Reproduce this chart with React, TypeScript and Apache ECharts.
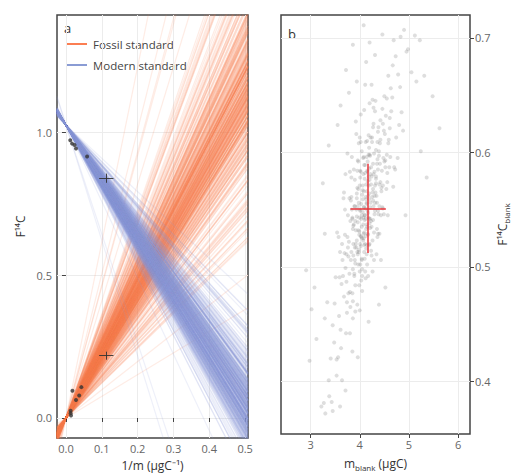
import React, { useEffect, useRef } from 'react';
import * as echarts from 'echarts';

// Posterior draws of the procedural blank: [m_blank (μgC), F14C_blank]
const blankDraws: [number, number][] = [
  [4.12,0.551],[3.86,0.498],[4.41,0.608],[4.03,0.488],[4.27,0.622],[3.71,0.499],[4.55,0.598],[4.18,0.543],[3.94,0.560],[4.36,0.526],
  [4.08,0.596],[3.62,0.429],[4.21,0.534],[4.73,0.684],[3.99,0.543],[4.15,0.584],[3.81,0.465],[4.47,0.571],[4.02,0.609],[4.30,0.583],
  [3.76,0.517],[4.24,0.510],[4.61,0.630],[3.90,0.517],[4.11,0.659],[4.38,0.546],[3.53,0.405],[4.05,0.563],[4.19,0.519],[4.82,0.657],
  [3.97,0.568],[4.33,0.573],[3.68,0.474],[4.14,0.537],[4.50,0.649],[3.85,0.543],[4.26,0.496],[4.09,0.589],[3.43,0.382],[4.40,0.572],
  [4.01,0.520],[4.22,0.613],[3.79,0.494],[4.58,0.608],[4.13,0.559],[3.92,0.627],[4.35,0.533],[4.07,0.543],[5.12,0.702],[3.74,0.460],
  [4.29,0.599],[4.17,0.528],[3.88,0.537],[4.44,0.566],[4.00,0.496],[3.59,0.491],[4.64,0.636],[4.20,0.576],[3.95,0.467],[4.32,0.645],
  [4.10,0.541],[3.83,0.578],[4.49,0.546],[4.06,0.559],[3.30,0.372],[4.25,0.561],[4.69,0.698],[3.98,0.513],[4.16,0.592],[3.72,0.442],
  [4.39,0.597],[4.04,0.506],[3.87,0.520],[4.53,0.632],[4.23,0.540],[3.64,0.520],[4.11,0.496],[4.31,0.636],[3.93,0.550],[4.77,0.595],
  [4.14,0.556],[3.80,0.478],[4.42,0.611],[4.02,0.527],[3.48,0.434],[4.28,0.581],[4.09,0.637],[3.91,0.503],[4.60,0.587],[4.19,0.586],
  [3.96,0.539],[4.34,0.511],[4.07,0.595],[3.77,0.509],[4.52,0.593],[4.13,0.516],[3.70,0.550],[4.46,0.638],[4.00,0.462],[4.21,0.552],
  [3.84,0.550],[4.37,0.549],[4.15,0.610],[3.58,0.457],[4.27,0.568],[4.98,0.690],[3.95,0.513],[4.08,0.566],[4.43,0.506],[3.69,0.512],
  [4.18,0.598],[3.89,0.492],[4.56,0.574],[4.03,0.555],[4.24,0.535],[3.75,0.599],[4.12,0.542],[3.38,0.387],[4.36,0.609],[4.05,0.498],
  [3.92,0.520],[4.48,0.595],[4.11,0.520],[3.82,0.558],[4.30,0.562],[4.66,0.648],[3.99,0.484],[4.20,0.643],[3.63,0.485],[4.40,0.553],
  [4.06,0.571],[3.78,0.522],[4.25,0.609],[4.85,0.635],[3.97,0.502],[4.16,0.549],[3.51,0.491],[4.33,0.579],[4.01,0.578],[4.57,0.545],
  [3.86,0.470],[4.22,0.581],[4.09,0.530],[3.67,0.560],[4.44,0.569],[4.13,0.679],[3.94,0.544],[4.29,0.530],[4.74,0.613],[4.04,0.535],
  [3.73,0.487],[4.38,0.622],[4.17,0.492],[3.90,0.553],[4.51,0.616],[4.08,0.525],[3.45,0.449],[4.27,0.558],[3.98,0.608],[4.62,0.596],
  [4.14,0.511],[3.81,0.540],[4.35,0.556],[4.02,0.583],[3.56,0.421],[4.19,0.559],[4.90,0.707],[3.93,0.517],[4.23,0.587],[4.47,0.551],
  [3.88,0.585],[4.10,0.545],[3.66,0.492],[4.41,0.590],[4.05,0.479],[4.28,0.625],[3.76,0.545],[4.54,0.568],[4.12,0.561],[3.27,0.381],
  [4.32,0.565],[3.96,0.511],[4.20,0.598],[3.85,0.477],[4.59,0.611],[4.07,0.537],[3.71,0.581],[4.45,0.584],[4.15,0.519],[3.60,0.513],
  [4.26,0.646],[4.00,0.550],[3.83,0.513],[4.37,0.529],[4.11,0.582],[5.05,0.670],[3.91,0.461],[4.18,0.571],[4.68,0.570],[4.03,0.542],
  [3.79,0.560],[4.31,0.549],[4.09,0.513],[3.54,0.530],[4.42,0.628],[4.14,0.555],[3.89,0.494],[4.24,0.659],[4.80,0.624],[3.97,0.532],
  [4.16,0.529],[3.74,0.469],[4.49,0.619],[4.06,0.567],[3.93,0.616],[4.33,0.577],[3.41,0.420],[4.21,0.542],[4.01,0.584],[4.56,0.582],
  [3.87,0.536],[4.29,0.506],[4.12,0.609],[3.65,0.506],[4.39,0.601],[4.05,0.525],[3.80,0.442],[4.63,0.656],[4.19,0.564],[3.95,0.569],
  [4.46,0.552],[4.08,0.552],[3.70,0.528],[4.25,0.613],[3.99,0.528],[4.72,0.585],[3.84,0.596],[4.15,0.502],[3.34,0.469],[4.35,0.590],
  [4.04,0.507],[3.90,0.576],[4.52,0.587],[4.17,0.547],[3.61,0.445],[4.28,0.639],[3.96,0.553],[4.43,0.545],[4.10,0.577],[5.22,0.698],
  [3.82,0.506],[4.23,0.572],[4.02,0.633],[4.61,0.621],[3.77,0.477],[4.13,0.533],[4.37,0.618],[3.92,0.532],[3.49,0.468],[4.20,0.520],
  [4.07,0.581],[4.50,0.592],[3.86,0.455],[4.31,0.556],[3.68,0.565],[4.16,0.575],[4.88,0.619],[3.98,0.515],[4.26,0.565],[4.00,0.613],
  [3.73,0.511],[4.40,0.529],[4.11,0.545],[3.94,0.564],[4.58,0.667],[4.05,0.492],[3.57,0.526],[4.33,0.602],[4.19,0.542],[3.85,0.542],
  [4.47,0.625],[4.09,0.519],[3.80,0.583],[4.22,0.556],[3.64,0.401],[4.36,0.594],[4.01,0.549],[4.70,0.587],[3.91,0.484],[4.14,0.596],
  [3.89,0.553],[4.27,0.541],[4.55,0.647],[3.75,0.526],[4.12,0.490],[3.96,0.593],[4.42,0.574],[3.22,0.378],[4.18,0.579],[4.03,0.526],
  [4.06,0.548],[4.17,0.562],[3.99,0.531],[4.24,0.579],[4.10,0.507],[3.95,0.584],[4.30,0.546],[4.13,0.572],[4.02,0.518],[4.21,0.597],
  [3.91,0.540],[4.34,0.562],[4.08,0.529],[4.19,0.604],[3.98,0.556],[4.26,0.523],[4.11,0.589],[3.87,0.510],[4.15,0.535],[4.04,0.601],
  [4.28,0.553],[3.94,0.523],[4.16,0.583],[4.00,0.571],[4.23,0.514],[3.83,0.561],[4.37,0.585],[4.09,0.552],[4.20,0.538],[3.97,0.592],
  [4.12,0.527],[4.31,0.571],[3.90,0.506],[4.05,0.545],[4.18,0.615],[4.01,0.502],[4.27,0.590],[3.86,0.533],[4.14,0.566],[4.07,0.523],
  [3.72,0.672],[4.95,0.688],[3.86,0.694],[4.46,0.703],[5.31,0.667],[3.61,0.641],[4.67,0.676],[4.08,0.711],[5.48,0.649],[3.37,0.606],
  [4.31,0.685],[3.94,0.662],[4.83,0.701],[3.25,0.573],[5.62,0.621],[3.55,0.624],[4.20,0.696],[4.78,0.668],[3.78,0.652],[5.15,0.662],
  [3.12,0.437],[3.53,0.419],[3.85,0.426],[3.29,0.455],[4.18,0.452],[3.37,0.401],[3.71,0.392],[4.39,0.467],[2.98,0.418],[3.60,0.378],
  [3.96,0.421],[3.45,0.374],[4.52,0.482],[3.08,0.482],[5.36,0.578],[2.91,0.497],[4.93,0.545],[3.29,0.529],[5.24,0.601],[3.02,0.463],
  [7.4,0.83],[6.6,0.62],[2.1,0.47],[8.2,0.56],[6.9,0.44],[5.9,0.79],[2.3,0.33],[7.1,0.71],
];

// Nominal F14C of the two reference materials
const F_FOSSIL = 0.0;
const F_MODERN = 1.025;

// Measured standards: [1/m (μgC⁻¹), F14C]
const fossilPoints = [[0.018,0.095],[0.043,0.108],[0.037,0.079],[0.028,0.063],[0.013,0.025],[0.013,0.017],[0.014,0.009]];
const modernPoints = [[0.012,0.972],[0.017,0.960],[0.024,0.955],[0.028,0.943],[0.059,0.915]];
// Points with uncertainties: [x, y, xErr, yErr]
const errorPoints = [[0.1126,0.218,0.02,0.014],[0.1126,0.839,0.02,0.016]];
// Blank estimate: [m, F, mErr, FErr]
const blankEstimate = [4.17, 0.551, 0.36, 0.039];

const X_A: [number, number] = [-0.025, 0.508];
const Y_A: [number, number] = [-0.07, 1.41];
const X_B: [number, number] = [2.4, 6.24];
const Y_B: [number, number] = [0.354, 0.72];

const ORANGE = '#FB7E52';
const BLUE = '#8A9CD4';
const FONT = 'Open Sans';

function mixingLines(fStd: number) {
  return blankDraws.map(([m, f]) => ({
    coords: [
      [X_A[0], fStd + X_A[0] * m * (f - fStd)],
      [X_A[1], fStd + X_A[1] * m * (f - fStd)],
    ],
  }));
}

function crossSegments(rows: number[][]) {
  const segs: { coords: number[][] }[] = [];
  rows.forEach(([x, y, ex, ey]) => {
    segs.push({ coords: [[x - ex, y], [x + ex, y]] });
    segs.push({ coords: [[x, y - ey], [x, y + ey]] });
  });
  return segs;
}

export default function App() {
  const ref = useRef<HTMLDivElement>(null);
  useEffect(() => {
    if (!ref.current) return;
    const chart = echarts.init(ref.current, null, { renderer: 'svg' });
    const tickLabel = { color: '#666', fontSize: 11, fontFamily: FONT, margin: 5 };
    const nameStyle = { color: '#333', fontSize: 12, fontFamily: FONT };
    const tick = { show: true, inside: false, length: 4, lineStyle: { color: '#444', width: 1 } };
    const split = { show: true, lineStyle: { color: '#ececec', width: 1 } };
    const border = { show: true, borderColor: '#444', borderWidth: 1.5, backgroundColor: '#fff' };
    const sub = {
      a: { fontSize: 12, color: '#333', fontFamily: FONT, lineHeight: 16 },
      s: { fontSize: 8, color: '#333', fontFamily: FONT, lineHeight: 16, verticalAlign: 'bottom' },
    };

    chart.setOption({
      animation: false,
      backgroundColor: '#fff',
      grid: [
        { left: 57, top: 15, width: 191, height: 425, ...border },
        { left: 281, top: 15, width: 190, height: 425, ...border },
      ],
      xAxis: [
        {
          gridIndex: 0, type: 'value', min: X_A[0], max: X_A[1], splitNumber: 5,
          axisLine: { show: false }, axisTick: { ...tick, customValues: [0, 0.1, 0.2, 0.3, 0.4, 0.5] },
          axisLabel: { ...tickLabel, customValues: [0, 0.1, 0.2, 0.3, 0.4, 0.5], formatter: (v: number) => v.toFixed(1) },
          splitLine: split,
          name: '1/m (μgC⁻¹)', nameLocation: 'middle', nameGap: 21, nameTextStyle: nameStyle,
        },
        {
          gridIndex: 1, type: 'value', min: X_B[0], max: X_B[1], splitNumber: 4,
          axisLine: { show: false }, axisTick: { ...tick, customValues: [3, 4, 5, 6] },
          axisLabel: { ...tickLabel, customValues: [3, 4, 5, 6] },
          splitLine: split,
          name: '{a|m}{s|blank}{a| (μgC)}', nameLocation: 'middle', nameGap: 21,
          nameTextStyle: { ...nameStyle, rich: sub },
        },
      ],
      yAxis: [
        {
          gridIndex: 0, type: 'value', min: Y_A[0], max: Y_A[1], splitNumber: 3,
          axisLine: { show: false }, axisTick: { ...tick, customValues: [0, 0.5, 1] },
          axisLabel: { ...tickLabel, customValues: [0, 0.5, 1], formatter: (v: number) => v.toFixed(1) },
          splitLine: split,
          name: 'F¹⁴C', nameLocation: 'middle', nameGap: 31, nameTextStyle: nameStyle,
        },
        {
          gridIndex: 1, type: 'value', position: 'right', min: Y_B[0], max: Y_B[1], splitNumber: 4,
          axisLine: { show: false }, axisTick: { ...tick, customValues: [0.4, 0.5, 0.6, 0.7] },
          axisLabel: { ...tickLabel, customValues: [0.4, 0.5, 0.6, 0.7], formatter: (v: number) => v.toFixed(1) },
          splitLine: split,
          name: '{a|F¹⁴C}{s|blank}', nameLocation: 'middle', nameGap: 24,
          nameTextStyle: { ...nameStyle, rich: sub },
        },
      ],
      series: [
        {
          name: 'Fossil standard', type: 'lines', coordinateSystem: 'cartesian2d',
          xAxisIndex: 0, yAxisIndex: 0, clip: true, silent: true,
          lineStyle: { color: ORANGE, width: 1.2, opacity: 0.15 },
          data: mixingLines(F_FOSSIL), z: 2,
        },
        {
          name: 'Modern standard', type: 'lines', coordinateSystem: 'cartesian2d',
          xAxisIndex: 0, yAxisIndex: 0, clip: true, silent: true,
          lineStyle: { color: BLUE, width: 1.2, opacity: 0.15 },
          data: mixingLines(F_MODERN), z: 3,
        },
        {
          type: 'scatter', xAxisIndex: 0, yAxisIndex: 0, symbolSize: 4, silent: true,
          itemStyle: { color: '#333' }, data: [...fossilPoints, ...modernPoints], z: 5,
        },
        {
          type: 'lines', coordinateSystem: 'cartesian2d', xAxisIndex: 0, yAxisIndex: 0, silent: true,
          lineStyle: { color: '#333', width: 1, opacity: 0.9 },
          data: crossSegments(errorPoints), z: 5,
        },
        {
          type: 'scatter', xAxisIndex: 1, yAxisIndex: 1, symbolSize: 4, silent: true, clip: true,
          itemStyle: { color: '#777', opacity: 0.24 }, data: blankDraws, z: 2,
        },
        {
          type: 'lines', coordinateSystem: 'cartesian2d', xAxisIndex: 1, yAxisIndex: 1, silent: true,
          lineStyle: { color: '#E8343A', width: 1.5, opacity: 1 },
          data: crossSegments([blankEstimate]), z: 5,
        },
      ],
      graphic: [
        { type: 'text', left: 64, top: 21, style: { text: 'a', fontSize: 13, fill: '#333', fontFamily: FONT } },
        { type: 'text', left: 288, top: 27, style: { text: 'b', fontSize: 13, fill: '#333', fontFamily: FONT } },
        { type: 'line', shape: { x1: 67, y1: 44, x2: 87, y2: 44 }, style: { stroke: ORANGE, lineWidth: 2 } },
        { type: 'text', x: 93, y: 44, style: { text: 'Fossil standard', fontSize: 11.5, fill: '#444', fontFamily: FONT, verticalAlign: 'middle' } },
        { type: 'line', shape: { x1: 67, y1: 65, x2: 87, y2: 65 }, style: { stroke: BLUE, lineWidth: 2 } },
        { type: 'text', x: 93, y: 65, style: { text: 'Modern standard', fontSize: 11.5, fill: '#444', fontFamily: FONT, verticalAlign: 'middle' } },
      ],
    });
    return () => chart.dispose();
  }, []);
  return <div ref={ref} style={{ position: 'fixed', left: 0, top: 0, width: 511, height: 476 }} />;
}
